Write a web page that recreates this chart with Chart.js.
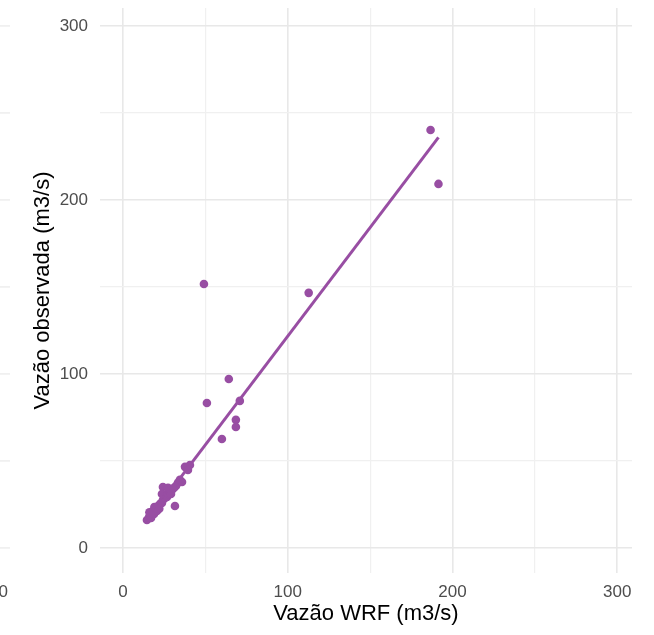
<!DOCTYPE html>
<html>
<head>
<meta charset="utf-8">
<script src="https://cdn.jsdelivr.net/npm/chart.js@4"></script>
<style>
  html, body { margin: 0; padding: 0; background: #fff; }
  #wrap { width: 654px; height: 635px; }
</style>
</head>
<body>
<div id="wrap"><canvas id="scatterChart" width="654" height="635"></canvas></div>
<script>
// Vazão WRF (x) vs Vazão observada (y), m3/s
const wrfX = [
    14.5, 15.8, 16.4, 17.6, 17.0, 18.2, 19.4, 18.8, 20.0, 21.2,
    20.6, 22.4, 23.6, 24.2, 25.5, 24.2, 23.6, 26.7, 27.3, 28.5,
    29.7, 29.1, 30.9, 32.1, 31.5, 33.3, 34.5, 35.8, 37.6, 40.6,
    39.4, 27.3, 16.0, 19.0, 22.0,
    49.1, 50.9, 60.0, 64.2, 68.5, 68.5, 70.9, 112.7, 186.7, 191.5
];
const obsY = [
    16.1, 17.8, 19.0, 20.1, 17.2, 21.3, 21.8, 19.5, 23.0, 24.1,
    21.3, 25.3, 25.9, 27.6, 28.7, 35.0, 31.0, 29.3, 31.0, 32.2,
    33.3, 31.0, 34.5, 35.6, 24.1, 37.4, 39.1, 37.9, 46.6, 47.7,
    44.8, 34.5, 20.5, 23.5, 22.5,
    151.7, 83.3, 62.6, 97.1, 73.6, 69.5, 84.5, 146.6, 240.2, 209.2
];

// fitted line ends
const fitX = [14.5, 191.5];
const fitY = [15.0, 236.0];

const xTicks = [0, 50, 100, 150, 200, 250, 300];
const yTicks = [0, 50, 100, 150, 200, 250, 300];

const purple = '#984ea3';
const fontFam = "'Liberation Sans', Arial, sans-serif";

const points = wrfX.map((x, i) => ({ x: x, y: obsY[i] }));
const fitLine = fitX.map((x, i) => ({ x: x, y: fitY[i] }));

function gridColor(ctx) {
    return ctx.tick && ctx.tick.value % 100 === 0 ? '#e8e8e8' : '#f0f0f0';
}
function gridWidth(ctx) {
    return ctx.tick && ctx.tick.value % 100 === 0 ? 1.6 : 1.2;
}

// piece of the neighbouring panel visible at the left edge
const edgePlugin = {
    id: 'edgePlugin',
    afterDraw(chart) {
        const ctx = chart.ctx;
        const yScale = chart.scales.y;
        ctx.save();
        ctx.strokeStyle = '#ececec';
        ctx.lineWidth = 1.4;
        yTicks.forEach(v => {
            const py = yScale.getPixelForValue(v);
            ctx.beginPath();
            ctx.moveTo(0, py);
            ctx.lineTo(10, py);
            ctx.stroke();
        });
        ctx.fillStyle = '#4d4d4d';
        ctx.font = '17px ' + fontFam;
        ctx.textAlign = 'right';
        ctx.textBaseline = 'middle';
        ctx.fillText('300', 8, 592);
        ctx.restore();
    }
};

const chart = new Chart(document.getElementById('scatterChart').getContext('2d'), {
    type: 'scatter',
    data: {
        datasets: [{
            type: 'line',
            data: fitLine,
            borderColor: purple,
            borderWidth: 3,
            pointRadius: 0,
            fill: false,
            order: 0
        }, {
            data: points,
            backgroundColor: purple,
            borderWidth: 0,
            pointRadius: 4.3,
            order: 1
        }]
    },
    options: {
        responsive: false,
        animation: false,
        events: [],
        layout: { padding: { left: 0, right: 22, top: 8, bottom: 0 } },
        plugins: {
            legend: { display: false },
            tooltip: { enabled: false }
        },
        scales: {
            x: {
                type: 'linear',
                min: -14,
                max: 309,
                afterBuildTicks: s => { s.ticks = xTicks.map(v => ({ value: v })); },
                afterFit: s => { s.height = 62; s.paddingLeft = 0; s.paddingRight = 0; },
                border: { display: false },
                grid: { color: gridColor, lineWidth: gridWidth, drawTicks: false },
                ticks: {
                    autoSkip: false,
                    maxRotation: 0,
                    padding: 9,
                    color: '#4d4d4d',
                    font: { family: fontFam, size: 17 },
                    callback: v => (v % 100 === 0 ? String(v) : '')
                },
                title: {
                    display: true,
                    text: 'Vazão WRF (m3/s)',
                    color: '#000',
                    font: { family: fontFam, size: 22 },
                    padding: { top: 0, bottom: 8 }
                }
            },
            y: {
                type: 'linear',
                min: -14.4,
                max: 310.3,
                afterBuildTicks: s => { s.ticks = yTicks.map(v => ({ value: v })); },
                afterFit: s => { s.width = 100; s.paddingTop = 0; s.paddingBottom = 0; },
                border: { display: false },
                grid: { color: gridColor, lineWidth: gridWidth, drawTicks: false },
                ticks: {
                    autoSkip: false,
                    padding: 12,
                    color: '#4d4d4d',
                    font: { family: fontFam, size: 17 },
                    callback: v => (v % 100 === 0 ? String(v) : '')
                },
                title: {
                    display: true,
                    text: 'Vazão observada (m3/s)',
                    color: '#000',
                    font: { family: fontFam, size: 22 },
                    padding: { top: 30, bottom: 0 }
                }
            }
        }
    },
    plugins: [edgePlugin]
});
</script>
</body>
</html>
